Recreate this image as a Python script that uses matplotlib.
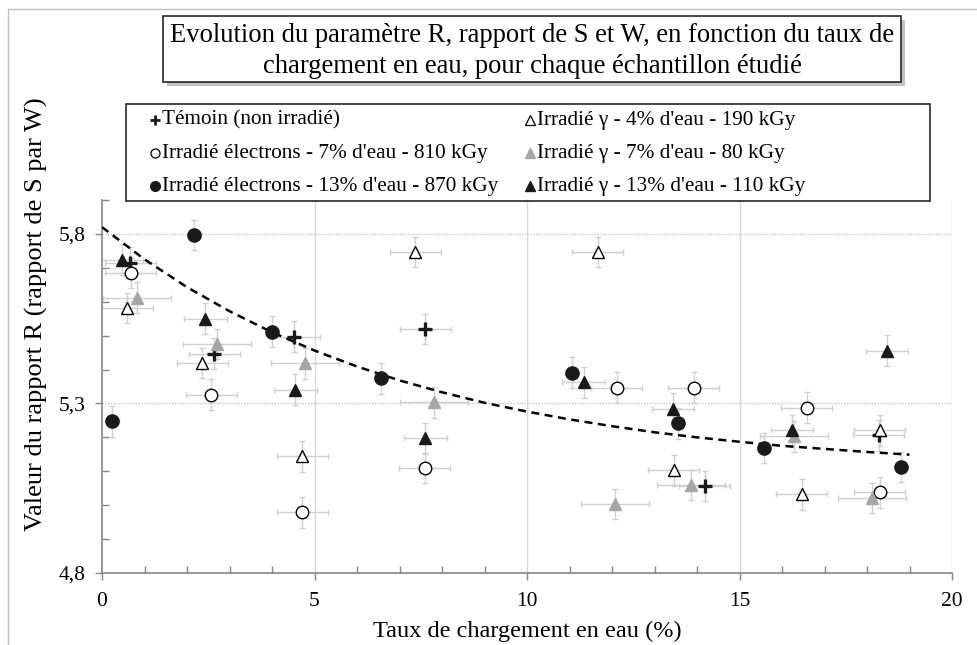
import matplotlib
matplotlib.use("Agg")
import matplotlib.pyplot as plt
from matplotlib.lines import Line2D
from matplotlib.patches import Rectangle
from matplotlib.ticker import MultipleLocator, FixedLocator, FuncFormatter

plt.rcParams['font.family'] = ['Liberation Serif', 'DejaVu Serif']

# --- data ---
temoin_x = [0.66, 2.64, 4.52, 7.61, 14.18, 18.28]
temoin_y = [5.715, 5.447, 5.497, 5.520, 5.056, 5.206]

g4_x = [0.59, 2.36, 4.71, 7.37, 11.66, 13.45, 16.47, 18.30]
g4_y = [5.582, 5.420, 5.144, 5.747, 5.747, 5.103, 5.032, 5.221]

e7_x = [0.68, 2.57, 4.71, 7.59, 12.11, 13.92, 16.58, 18.30]
e7_y = [5.685, 5.326, 4.979, 5.109, 5.347, 5.347, 5.288, 5.038]

e13_x = [0.24, 2.17, 4.00, 6.57, 11.05, 13.55, 15.57, 18.80]
e13_y = [5.247, 5.797, 5.512, 5.374, 5.391, 5.241, 5.168, 5.112]

g7_x = [0.83, 2.71, 4.78, 7.82, 12.06, 13.87, 16.28, 18.12]
g7_y = [5.612, 5.476, 5.418, 5.303, 5.003, 5.059, 5.203, 5.021]

g13_x = [0.47, 2.43, 4.55, 7.61, 11.33, 13.43, 16.23, 18.47]
g13_y = [5.724, 5.550, 5.341, 5.197, 5.362, 5.285, 5.221, 5.456]

# x uncertainty per series, y uncertainty common
xerr_temoin = 0.6
xerr_g4 = 0.6
xerr_e7 = 0.6
xerr_e13 = 0.15
xerr_g7 = 0.8
xerr_g13 = 0.5
yerr_all = 0.045

# dashed trend line, read at each unit of x
trend_x = list(range(0, 20))
trend_y = [5.820, 5.725, 5.643, 5.572, 5.510, 5.456, 5.409, 5.368, 5.333, 5.302,
           5.276, 5.253, 5.233, 5.215, 5.200, 5.187, 5.175, 5.166, 5.157, 5.149]

labels = ["Témoin (non irradié)",
          "Irradié électrons - 7% d'eau - 810 kGy",
          "Irradié électrons - 13% d'eau - 870 kGy",
          "Irradié γ - 4% d'eau - 190 kGy",
          "Irradié γ - 7% d'eau - 80 kGy",
          "Irradié γ - 13% d'eau - 110 kGy"]

title = ("Evolution du paramètre R, rapport de S et W, en fonction du taux de\n"
         "chargement en eau, pour chaque échantillon étudié")

W, H = 977, 645
fig = plt.figure(figsize=(W / 100, H / 100), dpi=100)

def fx(px):
    return px / W

def fy(py):
    return 1 - py / H

ax = fig.add_axes([fx(102), fy(573), fx(952) - fx(102), fy(200) - fy(573)])

err_col = '#d0d0d0'
ekw = dict(ecolor=err_col, elinewidth=1.0, capsize=2.5, capthick=1.0, linestyle='none', zorder=2)

black = '#1a1a1a'
grey = '#a6a6a6'
styles = {
    'temoin': dict(marker='+', ms=10, mew=2.4, color=black),
    'e7': dict(marker='o', ms=9, mfc='white', mec='black', mew=1.0),
    'e13': dict(marker='o', ms=9.5, mfc=black, mec=black),
    'g4': dict(marker='^', ms=9, mfc='white', mec='black', mew=1.0),
    'g7': dict(marker='^', ms=9, mfc=grey, mec=grey),
    'g13': dict(marker='^', ms=9, mfc=black, mec=black),
}
series = [
    ('temoin', temoin_x, temoin_y, xerr_temoin),
    ('g4', g4_x, g4_y, xerr_g4),
    ('e7', e7_x, e7_y, xerr_e7),
    ('g7', g7_x, g7_y, xerr_g7),
    ('g13', g13_x, g13_y, xerr_g13),
    ('e13', e13_x, e13_y, xerr_e13),
]
for key, xs, ys, xe in series:
    ax.errorbar(xs, ys, xerr=xe, yerr=yerr_all, fmt='none', **ekw)

ax.plot(trend_x, trend_y, color='black', lw=1.8, linestyle=(0, (3.2, 2.2)), zorder=3)

for key, xs, ys, xe in series:
    ax.plot(xs, ys, linestyle='none', zorder=4, **styles[key])

ax.set_xlim(0, 20)
ax.set_ylim(4.8, 5.9)

ax.xaxis.set_major_locator(MultipleLocator(5))
ax.xaxis.set_minor_locator(MultipleLocator(1))
ax.yaxis.set_major_locator(FixedLocator([4.8, 5.3, 5.8]))
ax.yaxis.set_minor_locator(MultipleLocator(0.1))
ax.yaxis.set_major_formatter(FuncFormatter(lambda v, p: ('%.1f' % v).replace('.', ',')))

ax.tick_params(axis='both', which='major', direction='out', length=5, width=1,
               color='#868686', labelsize=15.5, labelcolor='black')
ax.tick_params(axis='x', which='major', pad=9)
ax.tick_params(axis='y', which='major', pad=7)
ax.tick_params(axis='both', which='minor', direction='in', length=5, width=1, color='#868686')

for side in ['top', 'right']:
    ax.spines[side].set_visible(False)
for side in ['left', 'bottom']:
    ax.spines[side].set_color('#868686')
    ax.spines[side].set_linewidth(1.2)

# grid: solid vertical, dotted horizontal
for xv in [5, 10, 15, 20]:
    ax.axvline(xv, color='#d9d9d9', lw=1.0, zorder=0)
for yv in [5.3, 5.8]:
    ax.axhline(yv, color='#c8c8c8', lw=1.0, linestyle=(0, (1, 1)), zorder=0)

ax.set_xlabel("Taux de chargement en eau (%)", fontsize=17.5, labelpad=7)
fig.text(fx(36), fy(314), "Valeur du rapport R (rapport de S par W)", rotation=90,
         fontsize=19, ha='center', va='center')

# outer chart frame
fig.add_artist(Rectangle((fx(8), fy(665)), 2, fy(9) - fy(665), transform=fig.transFigure,
                         fill=False, edgecolor='#bfbfbf', lw=1.0))

# title box with shadow
tx0, ty0, tx1, ty1 = 163, 16, 901, 82
fig.add_artist(Rectangle((fx(tx0 + 4), fy(ty1 + 4)), fx(tx1) - fx(tx0), fy(ty0) - fy(ty1),
                         transform=fig.transFigure, facecolor='#9a9a9a', edgecolor='none', alpha=0.6))
fig.add_artist(Rectangle((fx(tx0), fy(ty1)), fx(tx1) - fx(tx0), fy(ty0) - fy(ty1),
                         transform=fig.transFigure, facecolor='white', edgecolor='#262626', lw=1.2))
fig.text(fx((tx0 + tx1) / 2), fy((ty0 + ty1) / 2 + 2), title, ha='center', va='center',
         fontsize=19.2, linespacing=1.32)

# legend box, drawn entry by entry
fig.add_artist(Rectangle((fx(126), fy(201)), fx(930) - fx(126), fy(104) - fy(201),
                         transform=fig.transFigure, facecolor='white', edgecolor='#262626', lw=1.2))
leg_keys = ['temoin', 'e7', 'e13', 'g4', 'g7', 'g13']
leg_small = {
    'temoin': dict(marker='+', ms=7, mew=2.0, color=black),
    'e7': dict(marker='o', ms=6.5, mfc='white', mec='black', mew=0.9),
    'e13': dict(marker='o', ms=7, mfc=black, mec=black),
    'g4': dict(marker='^', ms=6.5, mfc='white', mec='black', mew=0.9),
    'g7': dict(marker='^', ms=6.5, mfc=grey, mec=grey),
    'g13': dict(marker='^', ms=6.5, mfc=black, mec=black),
}
col_mark = [155, 530]
row_y = [120, 153, 186]
for i, (key, lab) in enumerate(zip(leg_keys, labels)):
    c, r = divmod(i, 3)
    fig.add_artist(Line2D([fx(col_mark[c])], [fy(row_y[r])], transform=fig.transFigure,
                          linestyle='none', **leg_small[key]))
    fig.text(fx(col_mark[c] + 7), fy(row_y[r]), lab, ha='left', va='center', fontsize=15.3)

fig.savefig("out.png", dpi=100)
